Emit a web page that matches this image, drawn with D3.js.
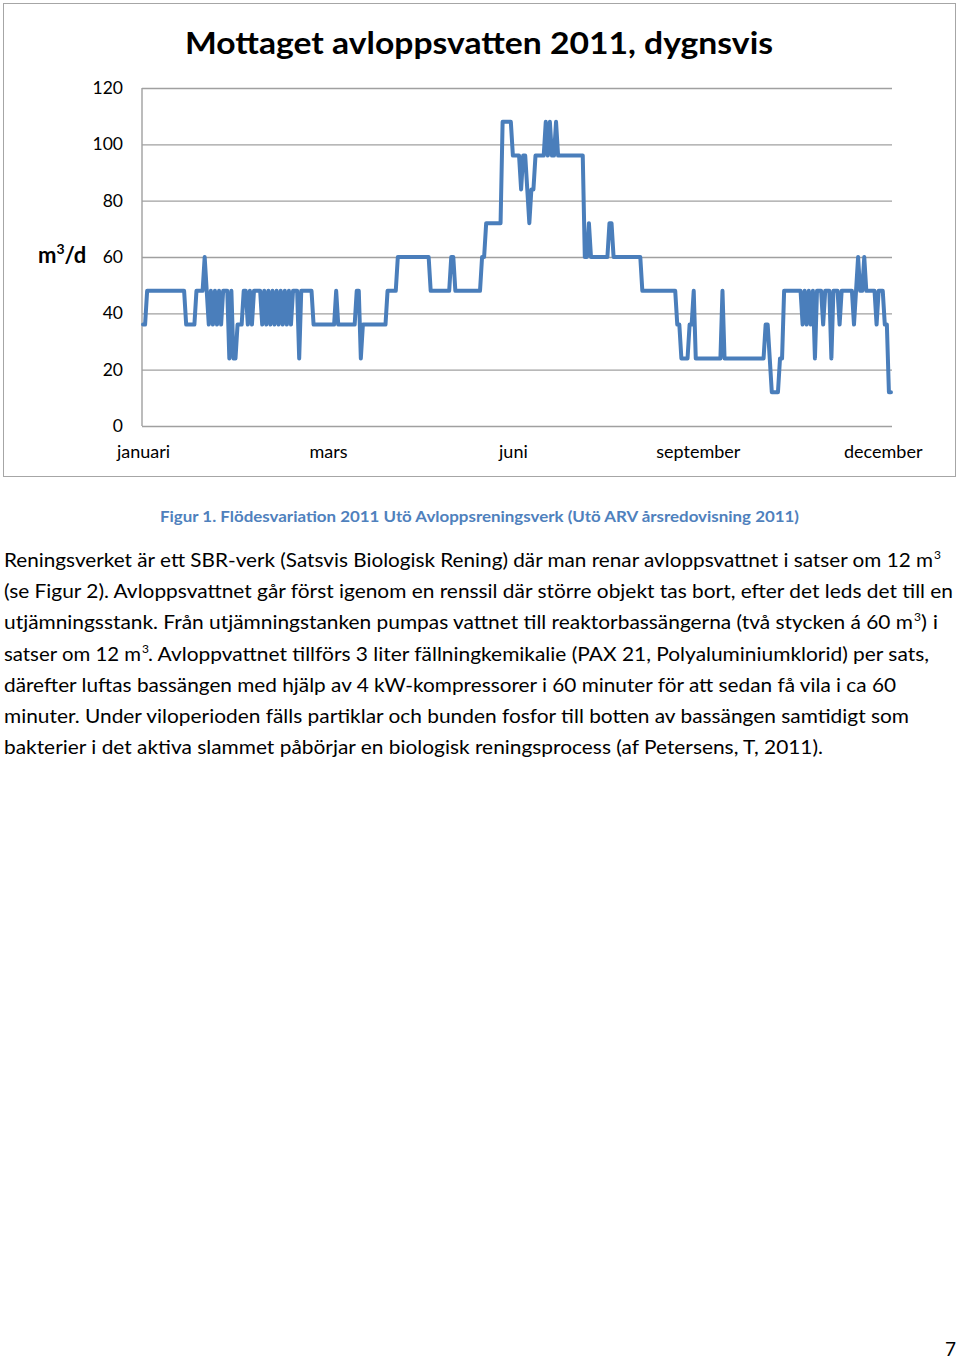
<!DOCTYPE html>
<html><head><meta charset="utf-8">
<script src="https://cdn.jsdelivr.net/npm/d3@7"></script>
<style>body{margin:0;background:#fff} svg{display:block}</style>
</head><body><svg id="c" width="960" height="1360"></svg>
<script>
// ---------- data ----------
const chartTitle = "Mottaget avloppsvatten 2011, dygnsvis";
const monthLabels = ["januari", "mars", "juni", "september", "december"];
const monthTickIdx = [0, 90, 180, 270, 360];
const yTicks = [0, 20, 40, 60, 80, 100, 120];

// daily received wastewater, m3/d
const flowQ1 = [
  36,36,48,48,48,48,48,48,48,48,
  48,48,48,48,48,48,48,48,48,48,
  48,36,36,36,36,36,48,48,48,48,
  60,48,36,48,36,48,36,48,36,48,
  48,48,24,48,24,24,36,36,36,48,
  48,36,48,36,48,48,48,48,36,48,
  36,48,36,48,36,48,36,48,36,48,
  36,48,36,48,48,48,24,48,48,48,
  48,48,48,36,36,36,36,36,36,36
];
const flowQ2 = [
  36,36,36,36,48,36,36,36,36,36,
  36,36,36,36,48,48,24,36,36,36,
  36,36,36,36,36,36,36,36,36,48,
  48,48,48,48,60,60,60,60,60,60,
  60,60,60,60,60,60,60,60,60,60,
  48,48,48,48,48,48,48,48,48,48,
  60,60,48,48,48,48,48,48,48,48,
  48,48,48,48,48,60,60,72,72,72,
  72,72,72,72,72,108,108,108,108,108
];
const flowQ3 = [
  96,96,96,96,84,96,96,84,72,84,
  84,96,96,96,96,96,108,96,108,96,
  96,108,96,96,96,96,96,96,96,96,
  96,96,96,96,96,60,60,72,60,60,
  60,60,60,60,60,60,60,72,72,60,
  60,60,60,60,60,60,60,60,60,60,
  60,60,60,48,48,48,48,48,48,48,
  48,48,48,48,48,48,48,48,48,48,
  36,36,24,24,24,24,36,36,48,24
];
const flowQ4 = [
  24,24,24,24,24,24,24,24,24,24,
  24,24,48,24,24,24,24,24,24,24,
  24,24,24,24,24,24,24,24,24,24,
  24,24,24,36,36,24,12,12,12,12,
  24,24,48,48,48,48,48,48,48,48,
  48,36,48,36,48,36,48,24,48,48,
  48,36,48,48,48,24,48,48,48,36,
  48,48,48,48,48,48,36,48,60,48,
  48,60,48,48,48,48,48,36,48,48,
  48,36,36,12,12
];
const flow = flowQ1.concat(flowQ2, flowQ3, flowQ4);

const captionText = "Figur 1. Flödesvariation 2011 Utö Avloppsreningsverk (Utö ARV årsredovisning 2011)";
const bodyLines = [
  ["Reningsverket är ett SBR-verk (Satsvis Biologisk Rening) där man renar avloppsvattnet i satser om 12 m", "3", ""],
  ["(se Figur 2). Avloppsvattnet går först igenom en renssil där större objekt tas bort, efter det leds det till en"],
  ["utjämningsstank. Från utjämningstanken pumpas vattnet till reaktorbassängerna (två stycken á 60 m", "3", ") i"],
  ["satser om 12 m", "3", ". Avloppvattnet tillförs 3 liter fällningkemikalie (PAX 21, Polyaluminiumklorid) per sats,"],
  ["därefter luftas bassängen med hjälp av 4 kW-kompressorer i 60 minuter för att sedan få vila i ca 60"],
  ["minuter. Under viloperioden fälls partiklar och bunden fosfor till botten av bassängen samtidigt som"],
  ["bakterier i det aktiva slammet påbörjar en biologisk reningsprocess (af Petersens, T, 2011)."]
];
const pageNumber = "7";

// ---------- drawing ----------
const F = "Lato, 'Open Sans', 'Liberation Sans', sans-serif";
const svg = d3.select("#c").style("font-family", F);

svg.append("rect").attr("x", 3.5).attr("y", 3.5).attr("width", 952).attr("height", 473)
  .attr("fill", "#fff").attr("stroke", "#a6a6a6").attr("stroke-width", 1);

svg.append("text").attr("x", 185).attr("y", 54).attr("textLength", 588)
  .attr("lengthAdjust", "spacingAndGlyphs")
  .attr("font-size", 31).attr("font-weight", 700).attr("fill", "#000").text(chartTitle);

const L = 142, R = 892, T = 88, B = 426;
const x = d3.scaleLinear().domain([-0.5, flow.length - 0.5]).range([L, R]);
const y = d3.scaleLinear().domain([0, 120]).range([B, T]);

const ya = svg.append("g").attr("transform", `translate(${L},0)`)
  .call(d3.axisLeft(y).tickValues(yTicks).tickSize(-(R - L)).tickPadding(19));
ya.select(".domain").remove();
ya.selectAll(".tick line").attr("stroke", "#a0a0a0").attr("stroke-width", 1.4);
ya.selectAll(".tick text").attr("font-size", 17.5).attr("fill", "#000").attr("font-family", F);

svg.append("line").attr("x1", L).attr("x2", L).attr("y1", T).attr("y2", B)
  .attr("stroke", "#a0a0a0").attr("stroke-width", 1.4);

const xa = svg.append("g").attr("transform", `translate(0,${B})`)
  .call(d3.axisBottom(x).tickValues(monthTickIdx).tickFormat((d, i) => monthLabels[i])
    .tickSize(0).tickPadding(19));
xa.select(".domain").remove();
xa.selectAll(".tick text").attr("font-size", 18).attr("fill", "#000").attr("font-family", F);

// y-axis title m3/d
const yt = svg.append("text").attr("x", 38).attr("y", 263)
  .attr("font-size", 22).attr("font-weight", 700).attr("fill", "#000");
yt.append("tspan").text("m");
yt.append("tspan").attr("dy", -9).attr("font-size", 14).text("3");
yt.append("tspan").attr("dy", 9).text("/d");

// line
const line = d3.line().x((d, i) => x(i)).y(d => y(d));
svg.append("path").datum(flow).attr("d", line).attr("fill", "none")
  .attr("stroke", "#4A7EBB").attr("stroke-width", 4)
  .attr("stroke-linejoin", "round").attr("stroke-linecap", "round");

// caption
svg.append("text").attr("x", 160).attr("y", 522).attr("textLength", 639)
  .attr("lengthAdjust", "spacingAndGlyphs")
  .attr("font-size", 16).attr("font-weight", 700).attr("fill", "#4F81BD").text(captionText);

// body text
const bodyY0 = 567, lh = 31.2;
const segX = [
  [[4, 933], [934], null],
  [[4, 953]],
  [[4, 913], [914], [921, 938]],
  [[4, 141], [142], [148, 929]],
  [[4, 896]],
  [[4, 909]],
  [[4, 823]]
];
bodyLines.forEach((segs, li) => {
  const by = bodyY0 + li * lh;
  segs.forEach((s, si) => {
    if (!s) return;
    const pos = segX[li][si];
    if (!pos) return;
    if (si === 1) {
      svg.append("text").attr("x", pos[0]).attr("y", by - 8).attr("font-size", 12)
        .attr("fill", "#000").text(s);
    } else {
      svg.append("text").attr("x", pos[0]).attr("y", by)
        .attr("textLength", pos[1] - pos[0]).attr("lengthAdjust", "spacingAndGlyphs")
        .attr("font-size", 19).attr("fill", "#000").text(s);
    }
  });
});

svg.append("text").attr("x", 945).attr("y", 1356).attr("font-size", 19).attr("fill", "#000").text(pageNumber);
</script></body></html>
